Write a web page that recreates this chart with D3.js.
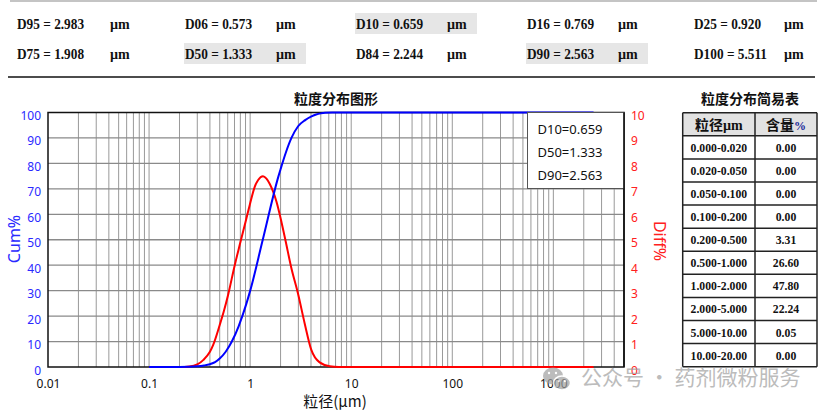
<!DOCTYPE html>
<html><head><meta charset="utf-8">
<script src="https://cdn.jsdelivr.net/npm/d3@7/dist/d3.min.js"></script>
<style>body{margin:0;background:#fff;}svg{display:block;}</style>
</head><body>
<svg id="c" width="834" height="410"></svg>
<script>
// ---------- data ----------
const headerRow1Names = ["D95","D06","D10","D16","D25"];
const headerRow1Vals  = ["2.983","0.573","0.659","0.769","0.920"];
const headerRow2Names = ["D75","D50","D84","D90","D100"];
const headerRow2Vals  = ["1.908","1.333","2.244","2.563","5.511"];
const highlighted = ["D10","D50","D90"];

const legendLines = ["D10=0.659","D50=1.333","D90=2.563"];

const tableRanges = ["0.000-0.020","0.020-0.050","0.050-0.100","0.100-0.200","0.200-0.500","0.500-1.000","1.000-2.000","2.000-5.000","5.000-10.00","10.00-20.00"];
const tableContents = ["0.00","0.00","0.00","0.00","3.31","26.60","47.80","22.24","0.05","0.00"];

const xTicks = [0.01,0.1,1,10,100,1000];
const cumTicks = [0,10,20,30,40,50,60,70,80,90,100];
const diffTicks = [0,1,2,3,4,5,6,7,8,9,10];

// differential distribution (Diff%)
const diffSizes = [0.1,0.2,0.25,0.3,0.343,0.4,0.43,0.5,0.55,0.605,0.704,0.789,0.9,0.991,1.11,1.2,1.34,1.45,1.56,1.82,2.04,2.23,2.56,2.97,3.46,4.03,4.87,6.12,7.5,2500];
const diffValues = [0,0,0.02,0.1,0.27,0.6,0.86,1.65,2.2,2.83,4.0,4.8,5.7,6.37,7.08,7.35,7.5,7.4,7.2,6.5,5.7,5.0,3.88,2.9,1.72,0.67,0.18,0.03,0,0];

// cumulative distribution (Cum%)
const cumSizes  = [0.1,0.2,0.25,0.3,0.35,0.4,0.45,0.5,0.573,0.659,0.769,0.92,1.0,1.333,1.908,2.0,2.244,2.563,2.983,3.5,4.0,4.5,5.0,5.511,6.5,2500];
const cumValues = [0,0,0.05,0.25,0.6,1.1,1.9,3.31,6,10,16,25,29.91,50,75,77.71,84,90,94.6,97.0,98.4,99.2,99.65,99.9,100,100];

// ---------- drawing ----------
const svg = d3.select("#c");
const serif = "'Liberation Serif','Times New Roman',serif";
const cjk = "'Noto Sans CJK SC','Noto Sans',sans-serif";
const sans = "'Noto Sans','Liberation Sans',sans-serif";

function condense(sel, f){
  sel.each(function(){ const L=this.getComputedTextLength(); d3.select(this).attr("textLength",L*f).attr("lengthAdjust","spacingAndGlyphs"); });
}

// header lines
svg.append("line").attr("x1",10).attr("x2",817).attr("y1",1).attr("y2",1).attr("stroke","#c4c4c4").attr("stroke-width",2);
svg.append("line").attr("x1",8).attr("x2",815).attr("y1",77).attr("y2",77).attr("stroke","#111").attr("stroke-width",1.5);

const colX = [17,185,356,527,694];
const umOff = [93,91,91,91,90];
const rowBase = [29,59];
[[headerRow1Names,headerRow1Vals],[headerRow2Names,headerRow2Vals]].forEach(([names,vals],r)=>{
  names.forEach((n,i)=>{
    if(highlighted.includes(n)){
      svg.append("rect").attr("x",colX[i]-1).attr("y",rowBase[r]-16).attr("width",122).attr("height",21).attr("fill","#e6e6e6");
    }
    svg.append("text").attr("x",colX[i]).attr("y",rowBase[r]).text(n+" = "+vals[i])
      .attr("font-family",serif).attr("font-weight","bold").attr("font-size",14).attr("fill","#111")
      .call(condense,0.95);
    svg.append("text").attr("x",colX[i]+umOff[i]).attr("y",rowBase[r]).text("µm")
      .attr("font-family",serif).attr("font-weight","bold").attr("font-size",14).attr("fill","#111");
  });
});

// chart
const L=48, R=624, T=112.5, B=367;
const x = d3.scaleLog().domain([0.01,5000]).range([L,R]);
const yC = d3.scaleLinear().domain([0,100]).range([B,T]);
const yD = d3.scaleLinear().domain([0,10]).range([B,T]);

svg.append("text").attr("x",(L+R)/2).attr("y",104).attr("text-anchor","middle").text("粒度分布图形")
  .attr("font-family",cjk).attr("font-weight","bold").attr("font-size",14).attr("fill","#111");

const grid = svg.append("g");
const vgrid=[];
[0.01,0.1,1,10,100,1000].forEach(dec=>{ for(let m=1;m<=9;m++){ const v=dec*m; if(v>0.01 && v<5000) vgrid.push(v);} });
grid.selectAll("line.v").data(vgrid).join("line").attr("class","v")
  .attr("x1",d=>x(d)).attr("x2",d=>x(d)).attr("y1",T).attr("y2",B).attr("stroke","#999").attr("stroke-width",1);
grid.selectAll("line.h").data(cumTicks.filter(d=>d>0&&d<100)).join("line").attr("class","h")
  .attr("x1",L).attr("x2",R).attr("y1",d=>yC(d)).attr("y2",d=>yC(d)).attr("stroke","#8a8a8a").attr("stroke-width",1.3);

// frame
svg.append("rect").attr("x",L).attr("y",T).attr("width",R-L).attr("height",B-T).attr("fill","none").attr("stroke","#111").attr("stroke-width",1.5);

// curves
const diffData = diffSizes.map((s,i)=>[s,diffValues[i]]);
const cumData = cumSizes.map((s,i)=>[s,cumValues[i]]);
svg.append("path").datum(diffData).attr("fill","none").attr("stroke","#ff0000").attr("stroke-width",2)
  .attr("d",d3.line().x(d=>x(d[0])).y(d=>yD(d[1])).curve(d3.curveMonotoneX));
svg.append("path").datum(cumData).attr("fill","none").attr("stroke","#0000ff").attr("stroke-width",2)
  .attr("d",d3.line().x(d=>x(d[0])).y(d=>yC(d[1])).curve(d3.curveMonotoneX));

// legend box
const lg = svg.append("g");
lg.append("rect").attr("x",527.5).attr("y",T).attr("width",R-527.5).attr("height",76).attr("fill","#fff").attr("stroke","#555").attr("stroke-width",1);
lg.selectAll("text").data(legendLines).join("text").attr("x",537.5).attr("y",(d,i)=>133.5+i*23).text(d=>d)
  .attr("font-family",sans).attr("font-size",13).attr("fill","#111");
svg.append("line").attr("x1",R).attr("x2",R).attr("y1",T).attr("y2",B).attr("stroke","#111").attr("stroke-width",1.5);

// axes (using d3 axes, no tick marks)
const axL = svg.append("g").attr("transform",`translate(${L},0)`).call(d3.axisLeft(yC).tickValues(cumTicks).tickSize(0).tickPadding(7));
axL.select(".domain").remove();
axL.selectAll("text").attr("fill","#2a2aff").attr("font-family",sans).attr("font-size",12).attr("y",7).attr("dy",0);
const axR = svg.append("g").attr("transform",`translate(${R},0)`).call(d3.axisRight(yD).tickValues(diffTicks).tickSize(0).tickPadding(7));
axR.select(".domain").remove();
axR.selectAll("text").attr("fill","#ff2020").attr("font-family",sans).attr("font-size",12).attr("y",7).attr("dy",0);
const axB = svg.append("g").attr("transform",`translate(0,${B})`).call(d3.axisBottom(x).tickValues(xTicks).tickFormat(d3.format("~g")).tickSize(0).tickPadding(0));
axB.select(".domain").remove();
axB.selectAll("text").attr("fill","#111").attr("font-family",sans).attr("font-size",12).attr("y",21).attr("dy",0);
svg.selectAll(".tick line").remove();

svg.append("text").attr("x",335).attr("y",407).attr("text-anchor","middle").text("粒径(µm)")
  .attr("font-family",cjk).attr("font-size",15).attr("fill","#111");
svg.append("text").attr("transform","translate(20,239) rotate(-90)").attr("text-anchor","middle").text("Cum%")
  .attr("font-family",sans).attr("font-size",16).attr("fill","#2a2aff");
svg.append("text").attr("transform","translate(654,241) rotate(90)").attr("text-anchor","middle").text("Diff%")
  .attr("font-family",sans).attr("font-size",16).attr("fill","#ff2020");

// table
const tx0=682.7, tx1=755, tx2=817, tT=112.7, rh=23.09;
svg.append("text").attr("x",750).attr("y",104).attr("text-anchor","middle").text("粒度分布简易表")
  .attr("font-family",cjk).attr("font-weight","bold").attr("font-size",14).attr("fill","#111");
svg.append("rect").attr("x",tx0).attr("y",tT).attr("width",tx2-tx0).attr("height",rh).attr("fill","#e2e2e2");
const tb = svg.append("g");
d3.range(12).forEach(i=>{
  tb.append("line").attr("x1",tx0).attr("x2",tx2).attr("y1",tT+i*rh).attr("y2",tT+i*rh).attr("stroke","#222").attr("stroke-width",1.5);
});
[tx0,tx1,tx2].forEach(xx=>tb.append("line").attr("x1",xx).attr("x2",xx).attr("y1",tT).attr("y2",tT+11*rh).attr("stroke","#222").attr("stroke-width",1.5));
const h1 = tb.append("text").attr("x",(tx0+tx1)/2).attr("y",tT+rh/2+5.5).attr("text-anchor","middle")
  .attr("font-weight","bold").attr("font-size",14).attr("fill","#111");
h1.append("tspan").attr("font-family",cjk).text("粒径");
h1.append("tspan").attr("font-family",serif).text("µm");
const h2 = tb.append("text").attr("x",(tx1+tx2)/2).attr("y",tT+rh/2+5.5).attr("text-anchor","middle")
  .attr("font-weight","bold").attr("font-size",14).attr("fill","#111");
h2.append("tspan").attr("font-family",cjk).text("含量");
h2.append("tspan").attr("font-family",serif).attr("font-size",12).attr("fill","#1a2a9a").text("%");
tb.selectAll("text.r").data(tableRanges).join("text").attr("class","r")
  .attr("x",(tx0+tx1)/2).attr("y",(d,i)=>tT+(i+1)*rh+rh/2+4.5).attr("text-anchor","middle").text(d=>d)
  .attr("font-family",serif).attr("font-weight","bold").attr("font-size",13).attr("fill","#111").call(condense,0.9);
tb.selectAll("text.v").data(tableContents).join("text").attr("class","v")
  .attr("x",(tx1+tx2)/2).attr("y",(d,i)=>tT+(i+1)*rh+rh/2+4.5).attr("text-anchor","middle").text(d=>d)
  .attr("font-family",serif).attr("font-weight","bold").attr("font-size",13).attr("fill","#111").call(condense,0.9);

// watermark
const wm = svg.append("g").attr("opacity",0.7);
wm.append("ellipse").attr("cx",553).attr("cy",376).attr("rx",10).attr("ry",8.5).attr("fill","#a0a0a0");
wm.append("ellipse").attr("cx",562).attr("cy",383).attr("rx",8.5).attr("ry",7).attr("fill","#a0a0a0").attr("stroke","#fff").attr("stroke-width",1.5);
[[549,373],[556,373],[559,381],[565,381]].forEach(p=>wm.append("circle").attr("cx",p[0]).attr("cy",p[1]).attr("r",1.2).attr("fill","#fff"));
wm.append("text").attr("x",581).attr("y",385).text("公众号 · 药剂微粉服务")
  .attr("font-family",cjk).attr("font-size",21).attr("fill","#a0a0a0");
</script>
</body></html>
